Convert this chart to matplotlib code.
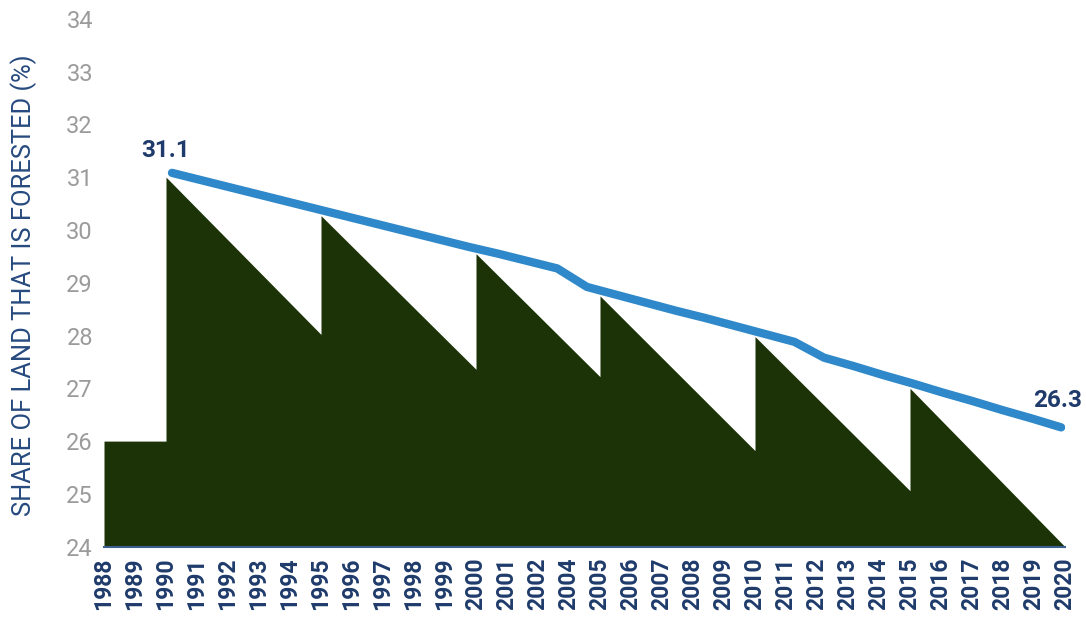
import matplotlib
matplotlib.use("Agg")
import matplotlib.pyplot as plt

plt.rcParams["font.family"] = ["Roboto", "DejaVu Sans"]

# category axis used by the area (2003 is not in the list)
cats = ["1988", "1989", "1990", "1991", "1992", "1993", "1994", "1995", "1996",
        "1997", "1998", "1999", "2000", "2001", "2002", "2004", "2005", "2006",
        "2007", "2008", "2009", "2010", "2011", "2012", "2013", "2014", "2015",
        "2016", "2017", "2018", "2019", "2020"]

# sawtooth "forest" area
area_years = ["1988", "1990", "1990", "1995", "1995", "2000", "2000", "2005",
              "2005", "2010", "2010", "2015", "2015", "2020"]
area_vals = [26.0, 26.0, 31.0, 28.02, 30.27, 27.36, 29.55, 27.22, 28.75,
             25.82, 27.98, 25.06, 27.0, 24.0]

# forest share line, yearly
line_years = list(range(1990, 2021))
line_vals = [31.08, 30.94, 30.80, 30.66, 30.52, 30.38, 30.24, 30.10, 29.96,
             29.82, 29.68, 29.55, 29.41, 29.27, 28.92, 28.77, 28.62, 28.47,
             28.33, 28.18, 28.03, 27.88, 27.58, 27.42, 27.25, 27.09, 26.92,
             26.76, 26.59, 26.43, 26.26]

navy = "#1f3b6b"
green = "#1c3307"
blue = "#2e88c9"

fig = plt.figure(figsize=(10.86, 6.2), dpi=100)
ax = fig.add_axes([104 / 1086, 73.3 / 620, 961 / 1086, 528 / 620])

ax_x = [cats.index(y) for y in area_years]
ax.fill_between(ax_x, 24, area_vals, color=green, linewidth=0)

ax.set_xlim(0, len(cats) - 1)
ax.set_ylim(24, 34)
ax.set_yticks(range(24, 35))
ax.set_xticks(range(len(cats)))
ax.set_xticklabels(cats, rotation=90, fontsize=16.5, fontweight="bold", color=navy)
ax.tick_params(axis="x", length=0, pad=8)
ax.tick_params(axis="y", length=0, pad=8, labelsize=17, labelcolor="#9b9b9b")

for s in ["top", "right", "left"]:
    ax.spines[s].set_visible(False)
ax.spines["bottom"].set_color("#3d5f8f")
ax.spines["bottom"].set_linewidth(1.5)

ax.set_ylabel("SHARE OF LAND THAT IS FORESTED (%)", fontsize=18.4,
              color="#264a7e")
ax.yaxis.set_label_coords(-0.07, 0.4956)

# line sits on its own continuous year scale
ax2 = ax.twiny()
ax2.set_xlim(1987.706, 2020.13)
ax2.set_ylim(24, 34)
ax2.plot(line_years, line_vals, color=blue, linewidth=6, solid_capstyle="round",
         solid_joinstyle="round")
ax2.axis("off")

ax2.annotate(f"{line_vals[0]:.1f}", (line_years[0], line_vals[0]), xytext=(-6, 22),
             textcoords="offset pixels", ha="center", va="center",
             fontsize=17.5, fontweight="bold", color=navy)
ax2.annotate(f"{line_vals[-1]:.1f}", (line_years[-1], line_vals[-1]), xytext=(-4, 27),
             textcoords="offset pixels", ha="center", va="center",
             fontsize=17.5, fontweight="bold", color=navy)

fig.savefig("out.png", dpi=100)
